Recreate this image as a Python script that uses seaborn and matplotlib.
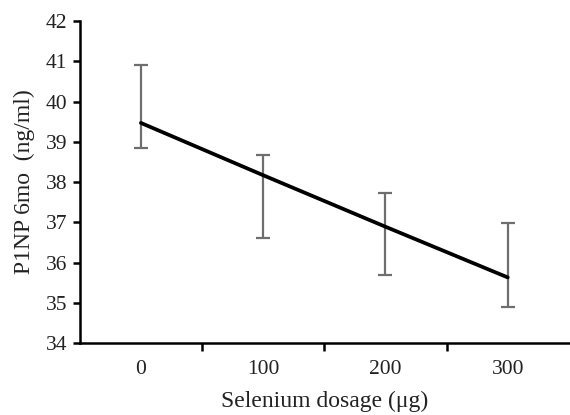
import matplotlib
matplotlib.use("Agg")
import matplotlib.pyplot as plt
import seaborn as sns
import numpy as np
import pandas as pd

doses = ["0", "100", "200", "300"]
means = [39.47, 38.17, 36.89, 35.63]
upper = [40.91, 38.67, 37.74, 36.99]
lower = [38.85, 36.62, 35.69, 34.90]

sns.set_style("white")
plt.rcParams['font.family'] = ['Liberation Serif', 'DejaVu Serif']

fig = plt.figure(figsize=(5.7, 4.15), dpi=100)
ax = fig.add_axes([0.14, 0.1735, 0.858, 0.7755])

xpos = np.arange(len(doses))
yerr = [np.array(means) - np.array(lower), np.array(upper) - np.array(means)]
ax.errorbar(xpos, means, yerr=yerr, fmt='none', ecolor='#6e6e6e', elinewidth=1.6,
            capsize=5, capthick=1.6, zorder=2)
sns.lineplot(x=xpos, y=means, ax=ax, color='black', linewidth=2.7, zorder=3)

ax.set_xlim(-0.5, 3.5)
ax.set_ylim(34, 42)
ax.set_yticks(range(34, 43))
ax.set_xticks(xpos)
ax.set_xticklabels(doses)
ax.set_xticks([0.5, 1.5, 2.5], minor=True)
ax.tick_params(axis='x', which='major', length=0, labelsize=15.5, pad=12, labelcolor='#222222')
ax.tick_params(axis='x', which='minor', length=6, width=1.8, direction='out', color='black', bottom=True)
ax.tick_params(axis='y', which='major', length=5, width=1.8, direction='out', labelsize=15.5,
               color='black', labelcolor='#222222', left=True, pad=4)
for s in ['top', 'right']:
    ax.spines[s].set_visible(False)
for s in ['left', 'bottom']:
    ax.spines[s].set_color('black')
    ax.spines[s].set_linewidth(1.8)

ax.set_xlabel("Selenium dosage (\u03bcg)", fontsize=17, color='#222222', labelpad=9)
ax.set_ylabel("P1NP 6mo  (ng/ml)", fontsize=17, color='#222222', labelpad=8)

fig.savefig("out.png", dpi=100)
